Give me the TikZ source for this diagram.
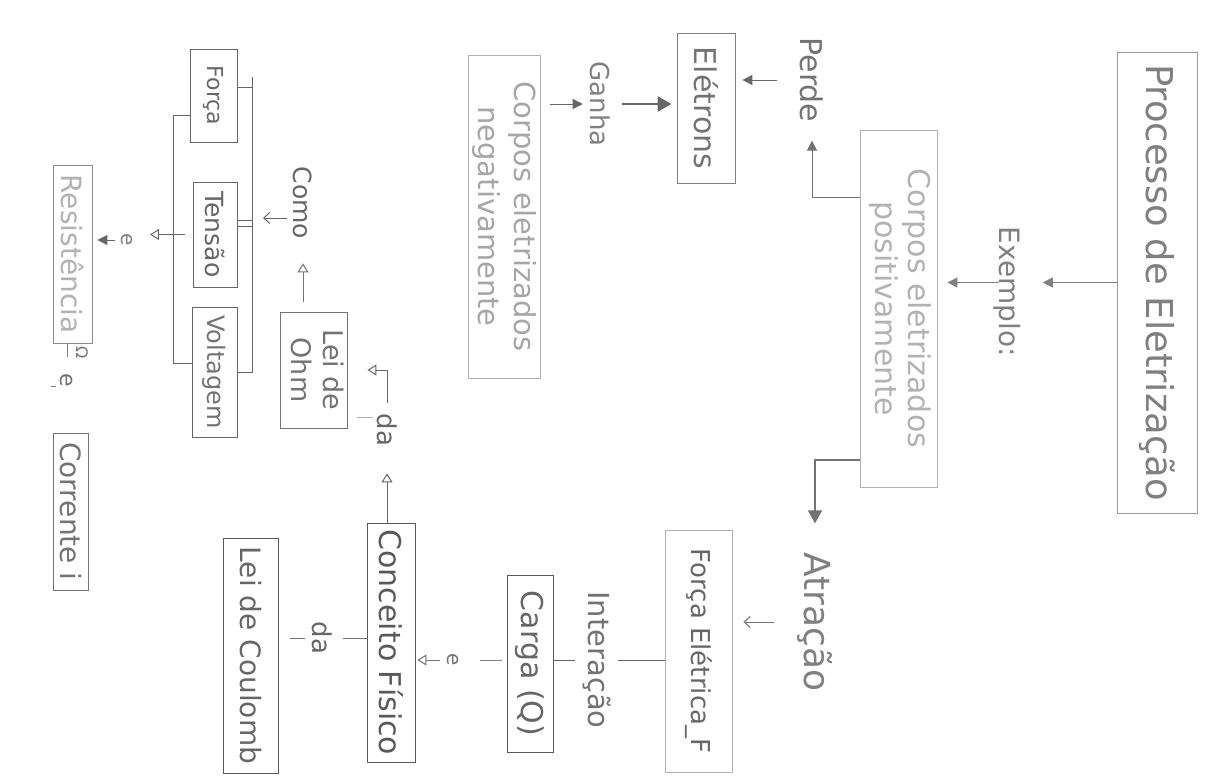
\documentclass[tikz,border=0pt]{standalone}
\usepackage{graphicx}
\usepackage{fontspec}
\setmainfont{DejaVu Sans}
\usetikzlibrary{arrows.meta,calc}
\newcommand\rt[2]{\rotatebox{-90}{\fontsize{#1pt}{#1pt}\selectfont #2}}
\newcommand\rtt[4]{\rotatebox{-90}{\fontsize{#1pt}{#2pt}\selectfont\begin{tabular}{@{}c@{}}#3\\#4\end{tabular}}}
\begin{document}
\begin{tikzpicture}[x=1pt,y=-1pt,
  box/.style={draw=#1, line width=0.9pt, inner sep=0pt, rectangle},
  lab/.style={inner sep=0pt, text=#1},
  con/.style={draw=#1, line width=1pt},
  con/.default=black!55,
  fa/.style={-{Triangle[length=10pt,width=10pt]}},
  oa/.style={-{Triangle[open,length=9pt,width=11pt]}},
  ba/.style={-{Straight Barb[length=6pt,width=11pt]}}]
\fill[white] (0,0) rectangle (1217,776);
\useasboundingbox (0,0) rectangle (1217,776);

% boxes
\node[box=black!40, text=black!50, minimum width=80pt, minimum height=461pt] (proc) at (1157,282.5) {\rt{37}{Processo de Eletrização}};
\node[box=black!30, text=black!30, minimum width=77pt, minimum height=357pt] (pos) at (898.5,308.5) {\rtt{30}{32}{Corpos eletrizados}{positivamente}};
\node[box=black!30, text=black!35, minimum width=72pt, minimum height=323pt] (neg) at (504,216.5) {\rtt{29}{36}{Corpos eletrizados}{negativamente}};
\node[box=black!50, text=black!55, minimum width=58pt, minimum height=150pt] (ele) at (706,108) {\rt{30}{Elétrons}};
\node[box=black!30, text=black!60, minimum width=67pt, minimum height=242pt] (fel) at (698.5,651) {\rt{26}{Força Elétrica\_F}};
\node[box=black!65, text=black!60, minimum width=46pt, minimum height=177pt] (carga) at (530,663.5) {\rt{30}{Carga (Q)}};
\node[box=black!65, text=black!65, minimum width=48pt, minimum height=239pt] (conc) at (391,642.5) {\rt{30}{Conceito Físico}};
\node[box=black!65, text=black!60, minimum width=55pt, minimum height=235pt] (coul) at (250.5,655.5) {\rt{28}{Lei de Coulomb}};
\node[box=black!55, text=black!55, minimum width=67pt, minimum height=116pt] (ohm) at (313.5,370) {\rtt{27}{32}{Lei de}{Ohm}};
\node[box=black!60, text=black!60, minimum width=47pt, minimum height=93pt] (forca) at (213.5,95.5) {\rt{22}{Força}};
\node[box=black!60, text=black!60, minimum width=44pt, minimum height=105pt] (tensao) at (215,234.5) {\rt{25}{Tensão}};
\node[box=black!60, text=black!55, minimum width=45pt, minimum height=130pt] (volt) at (214.5,372) {\rt{24}{Voltagem}};
\node[box=black!45, text=black!30, minimum width=39pt, minimum height=178pt] (res) at (72.5,254) {\rt{28}{Resistência}};
\node[box=black!55, text=black!55, minimum width=35pt, minimum height=157pt] (corr) at (70.5,511.5) {\rt{28}{Corrente i}};

% labels
\node[lab=black!50] (exemplo) at (1007,292) {\rt{28}{Exemplo:}};
\node[lab=black!55] (perde) at (812,80) {\rt{30}{Perde}};
\node[lab=black!50] (ganha) at (600,104) {\rt{26}{Ganha}};
\node[lab=black!50] (atracao) at (815,622) {\rt{36}{Atração}};
\node[lab=black!55] (interacao) at (597,660) {\rt{29}{Interação}};
\node[lab=black!55] (e1) at (453,660) {\rt{20}{e}};
\node[lab=black!60] (da1) at (322,638) {\rt{26}{da}};
\node[lab=black!60] (da2) at (387,430) {\rt{26}{da}};
\node[lab=black!60] (como) at (303,203) {\rt{25}{Como}};
\node[lab=black!50] (e2) at (127,240) {\rt{20}{e}};
\node[lab=black!55] (omega) at (82,353) {\rt{16}{Ω}};
\node[lab=black!55] (e3) at (67,380) {\rt{22}{e}};

% connectors
\draw[con=black!50, fa, shorten >=22pt] (proc.west) -- (proc.west -| exemplo.east);
\draw[con=black!50, fa, shorten <=-6pt, shorten >=10pt] (exemplo.west |- proc.west) -- (pos.east |- proc.west);
\draw[con=black!55, fa, shorten >=18pt] ($(pos.north west)!0.19!(pos.south west)$) -| (perde.south);
\draw[con=black!60, fa, shorten <=23pt, shorten >=7pt] (perde.west) -- (perde.west -| ele.east);
\draw[con=black!60, fa, shorten <=10pt, shorten >=7pt] (ganha.west -| neg.east) -- (ganha.west);
\draw[con=black!60, line width=2.6pt, -{Triangle[length=14pt,width=15pt]}, shorten <=12pt, shorten >=5pt] (ganha.east) -- (ganha.east -| ele.west);
\draw[con=black!55, line width=1.8pt, -{Triangle[length=13pt,width=14pt]}, shorten >=29pt] ($(pos.north west)!0.924!(pos.south west)$) -| (atracao.north);
\draw[con=black!55, ba, shorten <=23pt, shorten >=11pt] (atracao.west) -- (atracao.west -| fel.east);
\draw[con=black!60, shorten >=7pt] (interacao.east -| fel.west) -- (interacao.east);
\draw[con=black!60, shorten <=8pt] (interacao.west) -- (interacao.west -| carga.east);
\draw[con=black!50, shorten <=5pt, shorten >=21pt] (e1.east -| carga.west) -- (e1.east);
\draw[con=black!55, oa, shorten <=7pt, shorten >=2pt] (e1.west) -- (e1.west -| conc.east);
\draw[con=black!55, shorten >=11pt] (da1.east -| conc.west) -- (da1.east);
\draw[con=black!55, shorten <=7pt, shorten >=12pt] (da1.west) -- (da1.west -| coul.east);
\draw[con=black!60, oa, shorten >=27pt] (conc.north -| da2.south) -- (da2.south);
\draw[con=black!60, oa, shorten <=11pt, shorten >=20pt] (da2.north) |- (ohm.east);
\draw[con=black!30] ([xshift=10pt,yshift=-47pt]ohm.east) -- ([xshift=26pt,yshift=-47pt]ohm.east);
\draw[con=black!55, oa, shorten <=10pt, shorten >=24pt] (ohm.north -| como.south) -- (como.south);
\coordinate (brR) at (252,218);
\draw[con=black!60, ba, shorten <=6pt, shorten >=11pt] (brR -| como.west) -- (brR);

% bracket
\coordinate (brRt) at (252,77);
\coordinate (brRb) at (252,373);
\coordinate (brLt) at (173,115);
\coordinate (brLb) at (173,363);
\draw[con=black!60] (brRt) -- (brRb);
\draw[con=black!60] ([yshift=8.5pt]forca.east) -- ([yshift=8.5pt]forca.east -| brRt);
\draw[con=black!60] ([yshift=14pt]tensao.east) -- ([yshift=14pt]tensao.east -| brRt);
\draw[con=black!60] ([yshift=8.5pt]tensao.east) -- ([yshift=8.5pt]tensao.east -| brRt);
\draw[con=black!60] (volt.east) -- (volt.east -| brRb);
\draw[con=black!60] (forca.west |- brLt) -- (brLt) -- (brLb) -- (volt.west |- brLb);
\draw[con=black!60, oa, shorten <=8pt, shorten >=17pt] (tensao.west) -- (tensao.west -| e2.east);
\draw[con=black!60, fa, shorten <=6pt, shorten >=5pt] (e2.west) -- (e2.west -| res.east);
\draw[con=black!50, shorten >=16pt] (res.south -| e3.north) -- (e3.north);
\draw[con=black!50, shorten <=11pt, shorten >=20pt] (e3.south) -- (e3.south -| corr.north);
\end{tikzpicture}
\end{document}
